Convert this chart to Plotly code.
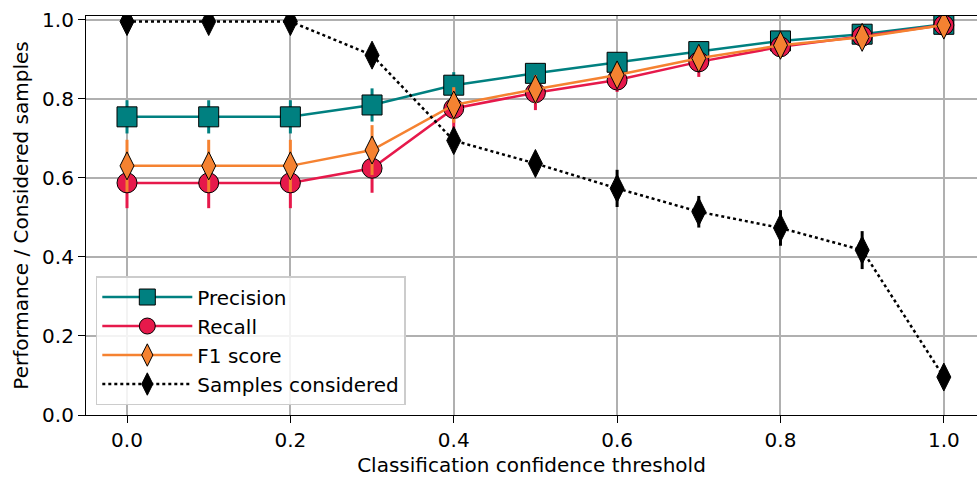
import plotly.graph_objects as go

thresholds = [0.0, 0.1, 0.2, 0.3, 0.4, 0.5, 0.6, 0.7, 0.8, 0.9, 1.0]
precision = [0.754, 0.754, 0.754, 0.784, 0.834, 0.864, 0.892, 0.919, 0.946, 0.963, 0.988]
precision_err = [0.042, 0.042, 0.042, 0.042, 0.033, 0.025, 0.02, 0.015, 0.012, 0.01, 0.005]
recall = [0.587, 0.587, 0.587, 0.624, 0.775, 0.815, 0.847, 0.893, 0.931, 0.958, 0.986]
recall_err = [0.064, 0.064, 0.064, 0.062, 0.05, 0.044, 0.03, 0.038, 0.025, 0.02, 0.008]
f1 = [0.63, 0.63, 0.63, 0.67, 0.784, 0.824, 0.86, 0.902, 0.935, 0.955, 0.986]
f1_err = [0.066, 0.066, 0.066, 0.063, 0.045, 0.035, 0.025, 0.03, 0.02, 0.015, 0.006]
samples = [0.995, 0.995, 0.995, 0.91, 0.694, 0.636, 0.573, 0.514, 0.473, 0.417, 0.096]
samples_err = [0.0, 0.0, 0.0, 0.01, 0.03, 0.025, 0.047, 0.04, 0.045, 0.048, 0.01]

FONT = "DejaVu Sans"
FS = 20

series = [
    ("Precision", precision, precision_err, "#008080", "square", 20, "solid"),
    ("Recall", recall, recall_err, "#e6194b", "circle", 20, "solid"),
    ("F1 score", f1, f1_err, "#f58231", "diamond-tall", 20, "solid"),
    ("Samples considered", samples, samples_err, "black", "diamond-tall", 20, "dot"),
]

fig = go.Figure()
for name, vals, errs, color, sym, size, dash in series:
    fig.add_trace(go.Scatter(
        x=thresholds, y=vals, name=name, mode="lines+markers",
        line=dict(color=color, width=2.5, dash=dash),
        marker=dict(symbol=sym, size=size, color=color,
                    line=dict(color="black", width=1)),
        error_y=dict(type="data", array=errs, visible=True,
                     color=color, thickness=3, width=0),
        cliponaxis=True,
    ))

fig.update_layout(
    width=977, height=478,
    margin=dict(l=86, r=0, t=16, b=63),
    plot_bgcolor="white", paper_bgcolor="white",
    font=dict(family=FONT, size=FS, color="black"),
    showlegend=True,
    legend=dict(
        x=0.011, y=0.025, xanchor="left", yanchor="bottom",
        bgcolor="rgba(255,255,255,0.85)", bordercolor="#cccccc", borderwidth=1.5,
        font=dict(family=FONT, size=FS), itemwidth=90, tracegroupgap=0,
    ),
)
fig.update_xaxes(
    range=[-0.0502, 1.0406], tickvals=[0.0, 0.2, 0.4, 0.6, 0.8, 1.0],
    tickformat=".1f", ticks="outside", ticklen=7, tickwidth=1.2, tickcolor="black",
    showline=True, linecolor="black", linewidth=1.2, mirror=True,
    showgrid=True, gridcolor="#b0b0b0", gridwidth=1.5, zeroline=False,
    title=dict(text="Classification confidence threshold", font=dict(size=FS), standoff=6),
    tickfont=dict(size=FS),
)
fig.update_yaxes(
    range=[0, 1.009], tickvals=[0.0, 0.2, 0.4, 0.6, 0.8, 1.0],
    tickformat=".1f", ticks="outside", ticklen=7, tickwidth=1.2, tickcolor="black",
    showline=True, linecolor="black", linewidth=1.2, mirror=False,
    showgrid=True, gridcolor="#b0b0b0", gridwidth=1.5, zeroline=False,
    title=dict(text="Performance / Considered samples", font=dict(size=FS), standoff=8),
    tickfont=dict(size=FS),
)

fig.write_html("out.html")
